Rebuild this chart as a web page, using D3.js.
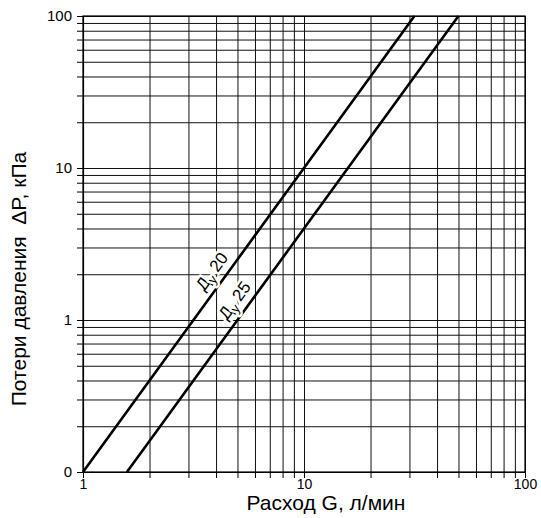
<!doctype html>
<html>
  <head>
    <meta charset="utf-8">
    <script src="https://cdn.jsdelivr.net/npm/d3@7/dist/d3.min.js"></script>
    <style>
      body { margin: 0; background: #fff; }
      text { font-family: Arial, "Liberation Sans", sans-serif; }
    </style>
  </head>
  <body>
    <div id="chart"></div>
    <script>
      // grid / tick values (log axes)
      const xGrid = [1, 2, 3, 4, 5, 6, 7, 8, 9, 10, 20, 30, 40, 50, 60, 70, 80, 90, 100];
      const yGrid = [0.1, 0.2, 0.3, 0.4, 0.5, 0.6, 0.7, 0.8, 0.9,
                     1, 2, 3, 4, 5, 6, 7, 8, 9,
                     10, 20, 30, 40, 50, 60, 70, 80, 90, 100];
      const xLabels = [1, 10, 100];
      const yLabels = [0.1, 1, 10, 100];
      const yLabelText = ["0", "1", "10", "100"];

      // flow G (l/min) vs pressure loss dP (kPa)
      const g20 = [1, 2, 5, 10, 20, 31.6];
      const dp20 = [0.1, 0.4, 2.5, 10, 40, 100];
      const g25 = [1.58, 2, 5, 10, 20, 50];
      const dp25 = [0.1, 0.16, 1.0, 4, 16, 100];

      const series = [
        { name: "Д", sub: "у", num: "20", g: g20, dp: dp20, at: 4.3 },
        { name: "Д", sub: "у", num: "25", g: g25, dp: dp25, at: 5.45 }
      ];

      const width = 541, height = 518;
      const margin = { top: 16, right: 16, bottom: 46, left: 83 };
      const w = width - margin.left - margin.right,
        h = height - margin.top - margin.bottom;

      const svg = d3.select("#chart").append("svg")
        .attr("width", width)
        .attr("height", height);

      const g = svg.append("g")
        .attr("transform", "translate(" + margin.left + "," + margin.top + ")");

      const x = d3.scaleLog().domain([1, 100]).range([0, w]);
      const y = d3.scaleLog().domain([0.1, 100]).range([h, 0]);

      // grid
      g.append("g")
        .attr("class", "grid")
        .call(d3.axisBottom(x).tickValues(xGrid).tickSize(h).tickFormat(""))
        .call(s => s.select(".domain").remove());
      g.append("g")
        .attr("class", "grid")
        .call(d3.axisLeft(y).tickValues(yGrid).tickSize(-w).tickFormat(""))
        .call(s => s.select(".domain").remove());
      g.selectAll(".grid line")
        .attr("stroke", "#111")
        .attr("stroke-width", 1);

      // outer ticks + labels
      const xAxis = g.append("g")
        .attr("transform", "translate(0," + h + ")")
        .call(d3.axisBottom(x).tickValues(xGrid).tickSizeInner(6).tickSizeOuter(0)
          .tickFormat(d => xLabels.includes(d) ? d : ""));
      const yAxis = g.append("g")
        .call(d3.axisLeft(y).tickValues(yGrid).tickSizeInner(6).tickSizeOuter(0)
          .tickFormat(d => {
            const i = yLabels.indexOf(d);
            return i >= 0 ? yLabelText[i] : "";
          }));
      [xAxis, yAxis].forEach(a => {
        a.selectAll("line").attr("stroke", "#000");
        a.select(".domain").attr("stroke", "#000").attr("stroke-width", 1.2);
        a.selectAll("text").attr("fill", "#000");
      });
      xAxis.selectAll("text").style("font-size", "14px").attr("y", 7);
      yAxis.selectAll("text").style("font-size", "15px").attr("x", -11);

      // frame top/right
      g.append("rect")
        .attr("width", w).attr("height", h)
        .attr("fill", "none").attr("stroke", "#000").attr("stroke-width", 1.2);

      // curves
      const line = d3.line()
        .x(d => x(d[0]))
        .y(d => y(d[1]));

      g.selectAll("path.curve")
        .data(series)
        .join("path")
        .attr("class", "curve")
        .attr("fill", "none")
        .attr("stroke", "#000")
        .attr("stroke-width", 2.6)
        .attr("d", s => line(d3.zip(s.g, s.dp)));

      // rotated labels along curves
      const angle = Math.atan2(y(1) - y(10), x(Math.sqrt(10)) - x(1)) * 180 / Math.PI;
      series.forEach(s => {
        // dP on the curve at label position (log-space interpolation)
        const lg = Math.log10(s.at);
        const lg0 = Math.log10(s.g[0]), lg1 = Math.log10(s.g[s.g.length - 1]);
        const t = (lg - lg0) / (lg1 - lg0);
        const d0 = Math.log10(s.dp[0]), d1 = Math.log10(s.dp[s.dp.length - 1]);
        const dpv = Math.pow(10, d0 + t * (d1 - d0));
        const px = x(s.at), py = y(dpv);
        const lab = g.append("text")
          .attr("transform", "translate(" + px + "," + py + ") rotate(" + (-angle) + ") translate(0,-8)")
          .attr("text-anchor", "middle")
          .attr("fill", "#000")
          .attr("stroke", "#fff")
          .attr("stroke-width", 5)
          .attr("stroke-linejoin", "round")
          .style("paint-order", "stroke")
          .style("font-size", "17px");
        lab.append("tspan").text(s.name);
        lab.append("tspan").text(s.sub).attr("dy", 4).style("font-size", "13px");
        lab.append("tspan").text(s.num).attr("dy", -4).attr("dx", 5);
      });

      // axis titles
      svg.append("text")
        .attr("x", 326)
        .attr("y", 510)
        .attr("text-anchor", "middle")
        .style("font-size", "21px")
        .text("Расход G, л/мин");

      svg.append("text")
        .attr("transform", "translate(26,279) rotate(-90)")
        .attr("text-anchor", "middle")
        .style("font-size", "21px")
        .style("white-space", "pre")
        .text("Потери давления  ΔP, кПа");
    </script>
  </body>
</html>
